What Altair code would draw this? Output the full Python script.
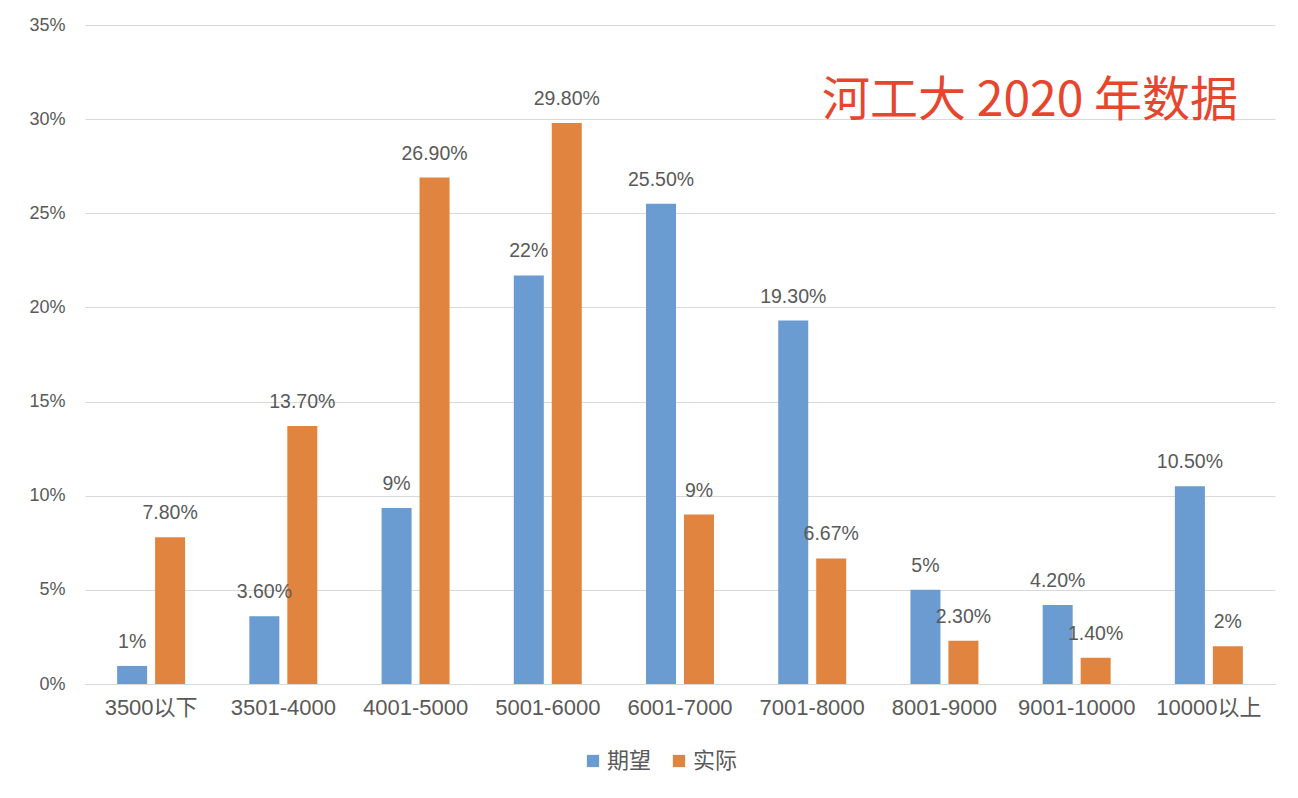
import altair as alt
import pandas as pd

categories = ["3500以下", "3501-4000", "4001-5000", "5001-6000", "6001-7000",
              "7001-8000", "8001-9000", "9001-10000", "10000以上"]
series = ["期望", "实际"]
expect_vals = [0.96, 3.6, 9.35, 21.7, 25.5, 19.3, 5.0, 4.2, 10.5]
actual_vals = [7.8, 13.7, 26.9, 29.8, 9.0, 6.67, 2.3, 1.4, 2.0]
expect_labels = ["1%", "3.60%", "9%", "22%", "25.50%", "19.30%", "5%", "4.20%", "10.50%"]
actual_labels = ["7.80%", "13.70%", "26.90%", "29.80%", "9%", "6.67%", "2.30%", "1.40%", "2%"]
colors = ["#6A9BD1", "#E0843F"]
title_text = "河工大 2020 年数据"

rows = []
for c, v, l in zip(categories, expect_vals, expect_labels):
    rows.append({"cat": c, "series": series[0], "value": v, "label": l})
for c, v, l in zip(categories, actual_vals, actual_labels):
    rows.append({"cat": c, "series": series[1], "value": v, "label": l})
df = pd.DataFrame(rows)

FONT = "Liberation Sans, Noto Sans CJK SC, sans-serif"

x = alt.X("cat:N", sort=categories, title=None,
          scale=alt.Scale(paddingInner=0.486, paddingOuter=0.243),
          axis=alt.Axis(labelAngle=0, labelFontSize=22, labelColor="#595959",
                        labelFont=FONT, labelPadding=13, ticks=False,
                        domainColor="#D9D9D9", domainWidth=1, grid=False))
xo = alt.XOffset("series:N", sort=series,
                 scale=alt.Scale(paddingInner=0.21, paddingOuter=0))
y = alt.Y("value:Q", title=None,
          scale=alt.Scale(domain=[0, 35], nice=False),
          axis=alt.Axis(values=[0, 5, 10, 15, 20, 25, 30, 35],
                        labelExpr="datum.value + '%'", labelFontSize=18,
                        labelColor="#595959", labelFont=FONT, labelPadding=20,
                        ticks=False, domain=False, grid=True,
                        gridColor="#D9D9D9", gridWidth=1))

bars = alt.Chart(df).mark_bar().encode(
    x=x, xOffset=xo, y=y,
    color=alt.Color("series:N", sort=series,
                    scale=alt.Scale(domain=series, range=colors),
                    legend=alt.Legend(title=None, orient="none", direction="horizontal",
                                      legendX=497, legendY=725, symbolType="square",
                                      symbolSize=150, symbolStrokeWidth=0,
                                      labelFontSize=22, labelColor="#595959",
                                      labelFont=FONT, columnPadding=16, labelOffset=3)),
)

labels = alt.Chart(df).mark_text(baseline="middle", dy=-24, fontSize=19.5,
                                 color="#595959", font=FONT).encode(
    x=x, xOffset=xo, y=y, text="label:N")

title_df = pd.DataFrame({"t": [title_text]})
title = alt.Chart(title_df).mark_text(align="left", baseline="middle", fontSize=48,
                                      color="#E8452F", font="Noto Sans CJK SC").encode(
    x=alt.value(737), y=alt.value(77), text="t:N")

chart = alt.layer(bars, labels, title).properties(
    width=1190, height=659,
    background="white",
    autosize=alt.AutoSizeParams(type="none"),
    padding={"left": 85, "top": 25, "right": 23, "bottom": 114},
).configure_view(strokeWidth=0, stroke="transparent")

chart.save("out.html", embed_options={"renderer": "svg", "actions": False})
